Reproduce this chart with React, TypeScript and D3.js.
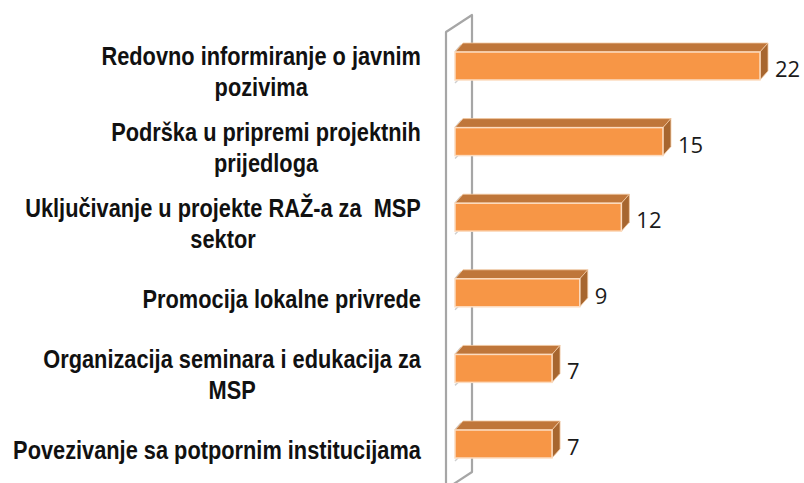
import React, { useEffect, useRef } from "react";
import * as d3 from "d3";

const categories = [
  "Redovno informiranje o javnim pozivima",
  "Podrška u pripremi projektnih prijedloga",
  "Uključivanje u projekte RAŽ-a za  MSP sektor",
  "Promocija lokalne privrede",
  "Organizacija seminara i edukacija za MSP",
  "Povezivanje sa potpornim institucijama",
];
const labelLines = [
  ["Redovno informiranje o javnim", "pozivima"],
  ["Podrška u pripremi projektnih", "prijedloga"],
  ["Uključivanje u projekte RAŽ-a za  MSP", "sektor"],
  ["Promocija lokalne privrede"],
  ["Organizacija seminara i edukacija za", "MSP"],
  ["Povezivanje sa potpornim institucijama"],
];
const values = [22, 15, 12, 9, 7, 7];

const W = 804;
const H = 483;

export default function App() {
  const ref = useRef<SVGSVGElement>(null);
  useEffect(() => {
    const svg = d3.select(ref.current);
    svg.selectAll("*").remove();
    const x = d3.scaleLinear().domain([0, 22]).range([455, 760]);
    const y = d3
      .scaleBand<string>()
      .domain(categories)
      .range([28.2, 481.8])
      .paddingInner(0.63)
      .paddingOuter(0.315);
    const dx = 8;
    const dy = 9;
    const x0 = x(0);

    // wall
    const wf = x0 - 9;
    const wb = x0 + 17;
    svg
      .append("path")
      .attr("d", `M${wf},${H + 10} L${wf},32 L${wb},15 L${wb},472 L${wf},489`)
      .attr("fill", "none")
      .attr("stroke", "#a6a6a6")
      .attr("stroke-width", 2.2)
      .attr("stroke-linejoin", "round");

    const g = svg.append("g");
    const labelG = svg.append("g");
    const allLabels: { texts: d3.Selection<SVGTextElement, unknown, null, undefined>[]; widths: number[] }[] = [];

    categories.forEach((c, i) => {
      const top = y(c)!;
      const bh = y.bandwidth();
      const bot = top + bh;
      const xv = x(values[i]);
      g.append("line")
        .attr("x1", x0)
        .attr("y1", top)
        .attr("x2", x0 + dx - 2)
        .attr("y2", top - dy + 2)
        .attr("stroke", "#c8c8c8")
        .attr("stroke-width", 1.5);
      g.append("line")
        .attr("x1", x0)
        .attr("y1", bot + 3)
        .attr("x2", x0 + 5)
        .attr("y2", bot - 2)
        .attr("stroke", "#cfcfcf")
        .attr("stroke-width", 1.5);
      g.append("path")
        .attr("d", `M${x0},${top} L${x0 + dx},${top - dy} L${xv + dx},${top - dy} L${xv},${top} Z`)
        .attr("fill", "#bf763a")
        .attr("stroke", "#f3c9a2")
        .attr("stroke-width", 0.8);
      g.append("path")
        .attr("d", `M${xv},${top} L${xv + dx},${top - dy} L${xv + dx},${bot - dy} L${xv},${bot} Z`)
        .attr("fill", "#a7662f")
        .attr("stroke", "#f3c9a2")
        .attr("stroke-width", 0.8);
      g.append("rect")
        .attr("x", x0)
        .attr("y", top)
        .attr("width", xv - x0)
        .attr("height", bh)
        .attr("fill", "#f79646")
        .attr("stroke", "#fcdcc0")
        .attr("stroke-width", 1.5);
      g.append("text")
        .attr("x", xv + dx + 7)
        .attr("y", top + bh / 2 + 11)
        .attr("font-family", "'Open Sans', sans-serif")
        .attr("font-size", 22)
        .attr("fill", "#1a1a1a")
        .text(values[i]);

      const lines = labelLines[i];
      const cy = top + bh / 2 + 15;
      const lh = 31;
      const texts = lines.map((ln, j) =>
        labelG
          .append("text")
          .attr("x", 0)
          .attr("y", cy + (j - (lines.length - 1) / 2) * lh)
          .attr("font-family", "'Liberation Sans', Arial, sans-serif")
          .attr("font-weight", "bold")
          .attr("font-size", 25)
          .attr("fill", "#111")
          .attr("text-anchor", "middle")
          .style("white-space", "pre")
          .text(ln)
      );
      const widths = texts.map((t) => (t.node() as SVGTextElement).getComputedTextLength());
      allLabels.push({ texts, widths });
    });

    // horizontal condensing, like a narrow typeface
    const right = 421;
    const longest = allLabels[5].widths[0];
    const k = 408 / longest;
    allLabels.forEach(({ texts, widths }) => {
      const maxW = d3.max(widths) || 0;
      const cx = right - (k * maxW) / 2;
      texts.forEach((t) => t.attr("transform", `translate(${cx},0) scale(${k},1)`));
    });
  }, []);
  return (
    <svg
      ref={ref}
      width={W}
      height={H}
      style={{ position: "absolute", left: 0, top: 0, background: "#fff" }}
    />
  );
}
